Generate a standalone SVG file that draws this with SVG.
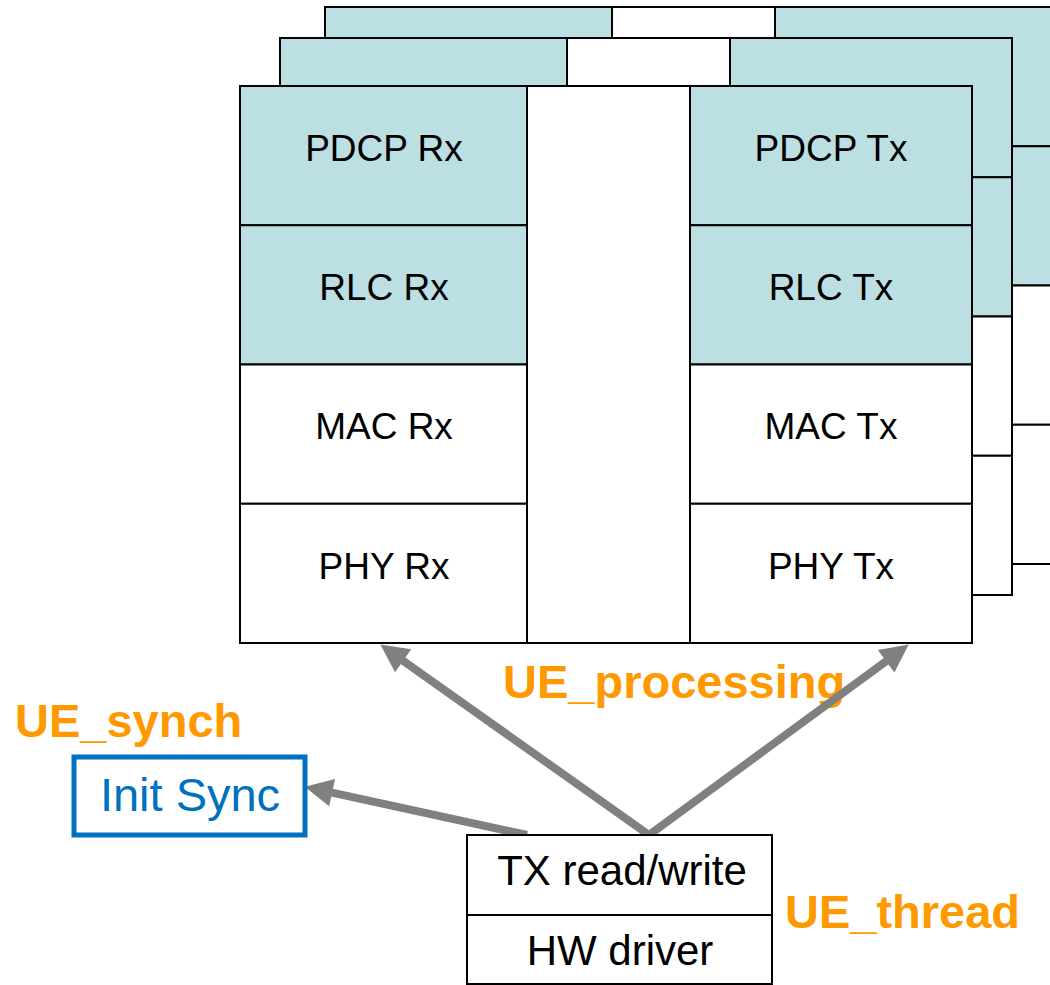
<svg xmlns="http://www.w3.org/2000/svg" width="1050" height="985" viewBox="0 0 1050 985">
<style>
.t{fill:#BCDFE3;stroke:#000;stroke-width:2}
.w{fill:#fff;stroke:#000;stroke-width:2}
.lbl{font-family:"Liberation Sans",Arial,sans-serif;font-size:37px;fill:#000;text-anchor:middle}
.big{font-family:"Liberation Sans",Arial,sans-serif;font-size:42px;fill:#000;text-anchor:middle}
.or{font-family:"Liberation Sans",Arial,sans-serif;font-size:47px;font-weight:bold;fill:#FF9900}
.conn{stroke:#808080;stroke-width:8;fill:none;marker-end:url(#ah)}
</style>
<defs>
<marker id="ah" viewBox="0 0 10 10" refX="3" refY="5" markerWidth="32" markerHeight="28" markerUnits="userSpaceOnUse" orient="auto">
<path d="M0,0 L10,5 L0,10 z" fill="#808080"/>
</marker>
<g id="frame">
<rect class="t" x="0" y="0" width="287" height="139.25"/>
<rect class="t" x="0" y="139.25" width="287" height="139.25"/>
<rect class="w" x="0" y="278.5" width="287" height="139.25"/>
<rect class="w" x="0" y="417.75" width="287" height="139.25"/>
<rect class="w" x="287" y="0" width="163" height="557"/>
<rect class="t" x="450" y="0" width="282" height="139.25"/>
<rect class="t" x="450" y="139.25" width="282" height="139.25"/>
<rect class="w" x="450" y="278.5" width="282" height="139.25"/>
<rect class="w" x="450" y="417.75" width="282" height="139.25"/>
</g>
</defs>
<g id="frame3"><use href="#frame" x="325" y="7"/></g>
<g id="frame2"><use href="#frame" x="280" y="38"/></g>
<g id="frame1">
<use href="#frame" x="240" y="86"/>
</g>
<g id="pdcp-rx"><text class="lbl" x="384" y="161">PDCP Rx</text></g>
<g id="rlc-rx"><text class="lbl" x="384" y="300">RLC Rx</text></g>
<g id="mac-rx"><text class="lbl" x="384" y="439">MAC Rx</text></g>
<g id="phy-rx"><text class="lbl" x="384" y="579">PHY Rx</text></g>
<g id="pdcp-tx"><text class="lbl" x="831" y="161">PDCP Tx</text></g>
<g id="rlc-tx"><text class="lbl" x="831" y="300">RLC Tx</text></g>
<g id="mac-tx"><text class="lbl" x="831" y="439">MAC Tx</text></g>
<g id="phy-tx"><text class="lbl" x="831" y="579">PHY Tx</text></g>
<g id="labels">
<text class="or" x="15" y="737">UE_synch</text>
<text class="or" x="503" y="698">UE_processing</text>
<text class="or" x="785" y="928">UE_thread</text>
</g>
<g id="connectors">
<line class="conn" x1="649" y1="835" x2="396.3" y2="655.9"/>
<line class="conn" x1="649" y1="835" x2="892.9" y2="656.2"/>
<line class="conn" x1="527" y1="835" x2="323.9" y2="790.8"/>
</g>
<g id="init-sync">
<rect x="74" y="757" width="231" height="78" fill="#fff" stroke="#0070C0" stroke-width="5"/>
<text x="190" y="811" font-family="Liberation Sans,Arial,sans-serif" font-size="47" fill="#0070C0" text-anchor="middle">Init Sync</text>
</g>
<g id="tx-rw">
<rect class="w" x="467" y="835" width="305" height="80"/>
<text class="big" x="622" y="885">TX read/write</text>
</g>
<g id="hw-driver">
<rect class="w" x="467" y="915" width="305" height="69"/>
<text class="big" x="620" y="965">HW driver</text>
</g>
</svg>
